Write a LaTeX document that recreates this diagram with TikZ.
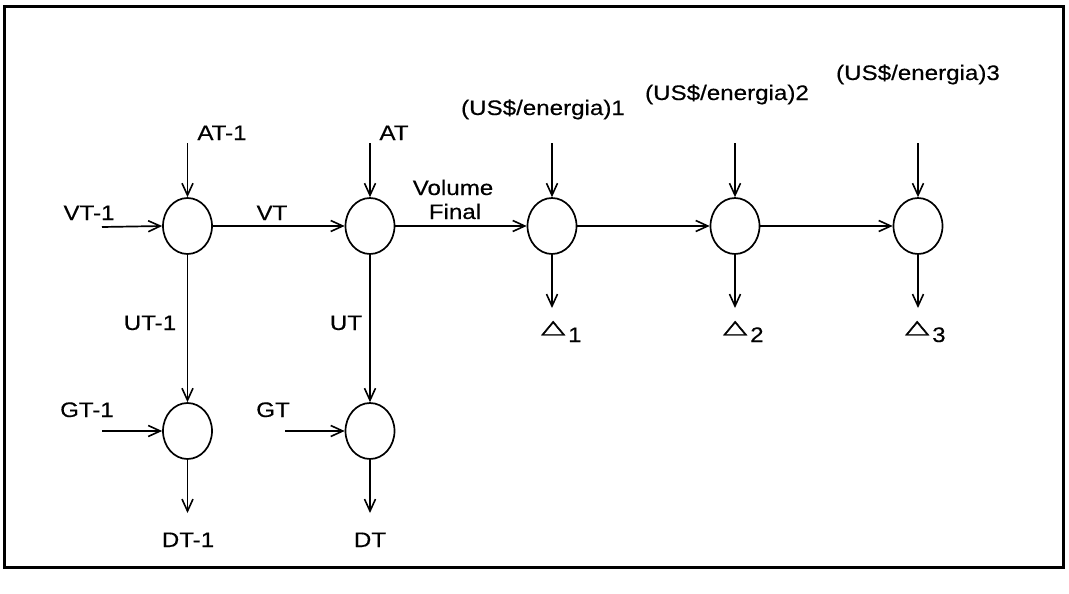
\documentclass[tikz,border=0pt]{standalone}
\usepackage{fontspec}
\setmainfont{Liberation Sans}[FakeStretch=1.15,FakeBold=0.4]
\newfontfamily\dvfont{DejaVu Sans}[FakeBold=1.5]
\usetikzlibrary{arrows.meta,shapes.geometric}
\newcommand{\tri}[1]{\raisebox{9pt}{\resizebox{24pt}{12pt}{\dvfont △}}\kern3pt#1}
\begin{document}
\begin{tikzpicture}[x=1pt,y=-1pt,
  every node/.style={font=\fontsize{21}{24}\selectfont},
  junction/.style={draw,ellipse,minimum width=49pt,minimum height=56pt,inner sep=0pt,line width=1.7pt},
  lbl/.style={anchor=base,inner sep=0pt},
  flow/.style={line width=1.7pt,-{Straight Barb[length=12pt,width=11pt,line width=1.6pt]}}]
\useasboundingbox (0,0) rectangle (1069,594);
\draw[line width=3pt] (4,7) rectangle (1063,567);
% junctions
\node[junction] (c1) at (187.5,226) {};
\node[junction] (c2) at (370,226) {};
\node[junction] (c3) at (552,226) {};
\node[junction] (c4) at (735,226) {};
\node[junction] (c5) at (918,226) {};
\node[junction] (c6) at (187.5,431) {};
\node[junction] (c7) at (370,431) {};
% labels
\node[lbl] (at1) at (222,140) {AT-1};
\node[lbl] (at) at (394,140) {AT};
\node[lbl] (vt1) at (89,220) {VT-1};
\node[lbl] (vt) at (272,220) {VT};
\node[lbl] (vf) at (453,195) {Volume};
\node[lbl] (fin) at (455,219) {Final};
\node[lbl] (e1) at (543,115) {(US\$/energia)1};
\node[lbl] (e2) at (727,100) {(US\$/energia)2};
\node[lbl] (e3) at (918,80) {(US\$/energia)3};
\node[lbl] (ut1) at (150,330) {UT-1};
\node[lbl] (ut) at (346,330) {UT};
\node[lbl] (gt1) at (87,417) {GT-1};
\node[lbl] (gt) at (273,417) {GT};
\node[lbl] (dt1) at (188,547) {DT-1};
\node[lbl] (dt) at (370,547) {DT};
\node[anchor=base west,inner sep=0pt] (d1) at (541,342) {\tri{1}};
\node[anchor=base west,inner sep=0pt] (d2) at (723,342) {\tri{2}};
\node[anchor=base west,inner sep=0pt] (d3) at (905,342) {\tri{3}};
% free ends
\coordinate (at1s) at (187.5,143);
\coordinate (ats) at (370,143);
\coordinate (vt1s) at (102,227);
\coordinate (gt1s) at (102,431);
\coordinate (gts) at (285,431);
\coordinate (e1s) at (552,143);
\coordinate (e2s) at (735,143);
\coordinate (e3s) at (918,143);
\coordinate (dt1e) at (187.5,513);
\coordinate (dte) at (370,513);
\coordinate (d1e) at (552,308);
\coordinate (d2e) at (735,308);
\coordinate (d3e) at (918,308);
% connectors
\draw[flow] (at1s) -- (c1.north);
\draw[flow] (ats) -- (c2.north);
\draw[flow] (vt1s) -- (c1.west);
\draw[flow] (c1.east) -- (c2.west);
\draw[flow] (c2.east) -- (c3.west);
\draw[flow] (c3.east) -- (c4.west);
\draw[flow] (c4.east) -- (c5.west);
\draw[flow] (e1s) -- (c3.north);
\draw[flow] (e2s) -- (c4.north);
\draw[flow] (e3s) -- (c5.north);
\draw[flow] (c3.south) -- (d1e);
\draw[flow] (c4.south) -- (d2e);
\draw[flow] (c5.south) -- (d3e);
\draw[flow] (c1.south) -- (c6.north);
\draw[flow] (c2.south) -- (c7.north);
\draw[flow] (gt1s) -- (c6.west);
\draw[flow] (gts) -- (c7.west);
\draw[flow] (c6.south) -- (dt1e);
\draw[flow] (c7.south) -- (dte);
\end{tikzpicture}
\end{document}
